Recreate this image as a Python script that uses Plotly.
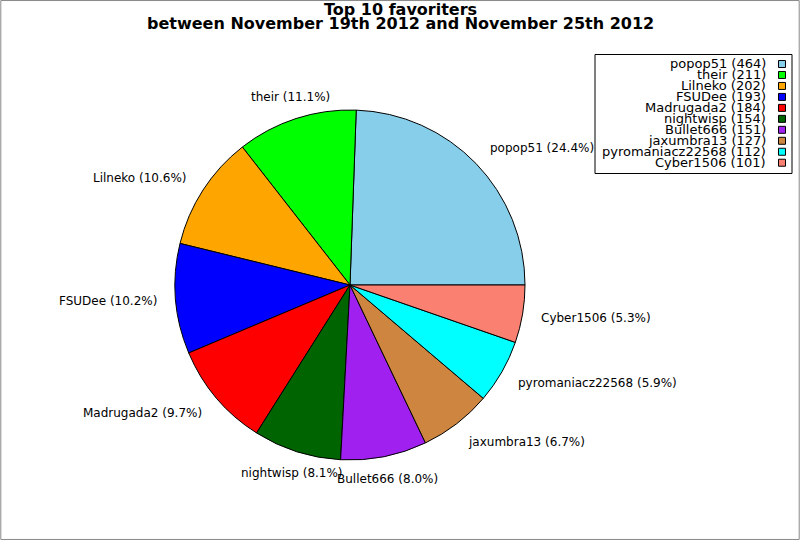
import math
import plotly.graph_objects as go

NAMES = ["popop51", "their", "Lilneko", "FSUDee", "Madrugada2",
         "nightwisp", "Bullet666", "jaxumbra13", "pyromaniacz22568", "Cyber1506"]
COUNTS = [464, 211, 202, 193, 184, 154, 151, 127, 112, 101]
COLORS = ["#87CEEB", "#00FF00", "#FFA500", "#0000FF", "#FF0000",
          "#006400", "#A020F0", "#CD853F", "#00FFFF", "#FA8072"]
TITLE_LINES = ["Top 10 favoriters",
               "between November 19th 2012 and November 25th 2012"]

W, H = 800, 540
FONT = "DejaVu Sans"
CX, CY, R = 350, 285, 175  # pie centre / radius in pixels


def px(x):
    return x / W


def py(y):
    # pixel row -> paper coordinate
    return 1 - y / H


total = sum(COUNTS)
# plotly's counterclockwise pie puts the first slice clockwise of `rotation`,
# so shift it to make the first slice begin at 3 o'clock
start = 90 - 360 * COUNTS[0] / total

fig = go.Figure()

fig.add_trace(go.Pie(
    labels=NAMES,
    values=COUNTS,
    marker=dict(colors=COLORS, line=dict(color="black", width=1)),
    sort=False,
    direction="counterclockwise",
    rotation=start,
    textinfo="none",
    domain=dict(x=[px(CX - R), px(CX + R)], y=[py(CY + R), py(CY - R)]),
    showlegend=False,
    hoverinfo="label+value+percent",
))

annotations = []

# slice labels at 1.1 r, like the reference
cum = 0
for name, cnt in zip(NAMES, COUNTS):
    mid = (cum + cnt / 2) / total * 2 * math.pi
    cum += cnt
    c, s = math.cos(mid), math.sin(mid)
    if abs(c) < 0.5:
        xa = "center"
    else:
        xa = "left" if c > 0 else "right"
    annotations.append(dict(
        x=px(CX + 1.1 * R * c), y=py(CY - 1.1 * R * s - 5 * s),
        xref="paper", yref="paper", xanchor=xa, yanchor="middle",
        showarrow=False, borderpad=0,
        text=f"{name} ({cnt / total:.1%})",
        font=dict(family=FONT, size=12, color="black"),
    ))

# hand-drawn legend: text right aligned, colour box on the right
shapes = [
    # figure border
    dict(type="rect", xref="paper", yref="paper", x0=0.001, x1=0.999, y0=0.001, y1=0.999,
         line=dict(color="#888888", width=1)),
    # legend frame
    dict(type="rect", xref="paper", yref="paper", x0=px(595), x1=px(792),
         y0=py(173.5), y1=py(54.5), line=dict(color="black", width=1), fillcolor="white"),
]
for k, (name, cnt, col) in enumerate(zip(NAMES, COUNTS, COLORS)):
    yc = 64 + k * 10.97
    annotations.append(dict(
        x=px(767), y=py(yc), xref="paper", yref="paper",
        xanchor="right", yanchor="middle", showarrow=False,
        text=f"{name} ({cnt})",
        font=dict(family=FONT, size=13, color="black"),
        borderpad=0,
    ))
    shapes.append(dict(
        type="rect", xref="paper", yref="paper",
        x0=px(778.5), x1=px(785.5), y0=py(yc + 3.5), y1=py(yc - 3.5),
        line=dict(color="black", width=1), fillcolor=col,
    ))

# two-line bold title
for line, yc in zip(TITLE_LINES, [10, 24]):
    annotations.append(dict(
        x=0.5, y=py(yc), xref="paper", yref="paper",
        xanchor="center", yanchor="middle", showarrow=False,
        text=f"<b>{line}</b>",
        font=dict(family=FONT, size=16, color="black"),
        borderpad=0,
    ))

fig.update_layout(
    width=W,
    height=H,
    margin=dict(l=0, r=0, t=0, b=0),
    paper_bgcolor="white",
    shapes=shapes,
    annotations=annotations,
)

fig.write_html("out.html", config={"displayModeBar": False},
               post_script="document.body.style.margin='0';")
